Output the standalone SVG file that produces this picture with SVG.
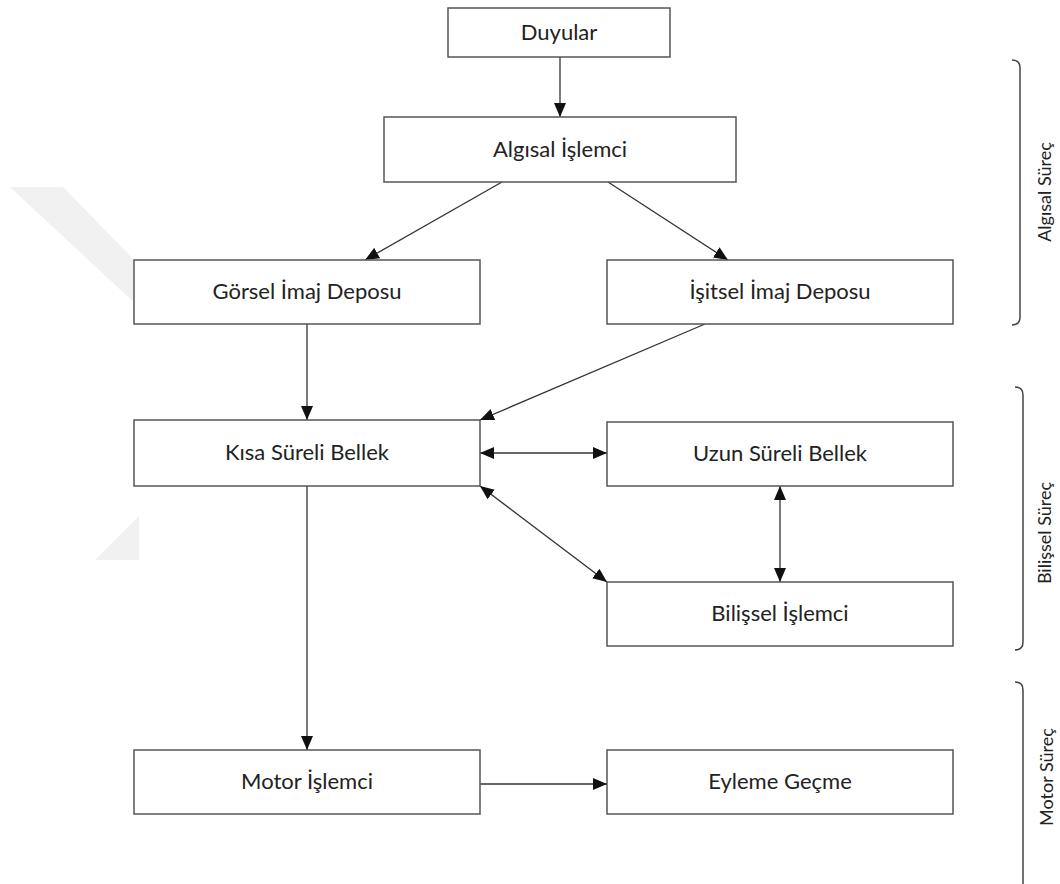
<svg xmlns="http://www.w3.org/2000/svg" width="1060" height="884" viewBox="0 0 1060 884">
<style>
.box{fill:#fff;stroke:#555;stroke-width:1.5}
.lbl{font-family:Lato,"Liberation Sans",sans-serif;font-size:22px;fill:#222;text-anchor:middle}
.side{font-family:Lato,"Liberation Sans",sans-serif;font-size:18px;fill:#222;text-anchor:middle}
.ln{fill:none;stroke:#333;stroke-width:1.3}
.br{fill:none;stroke:#444;stroke-width:1.5}
.wm{fill:#f1f1f1}
</style>
<defs>
<marker id="ah" markerUnits="userSpaceOnUse" markerWidth="14" markerHeight="12" viewBox="0 0 14 12" refX="14" refY="6" orient="auto-start-reverse">
<path d="M0,0 L14,6 L0,12 z" fill="#111"/>
</marker>
</defs>
<rect width="1060" height="884" fill="#fff"/>
<g id="watermark">
<polygon class="wm" points="10,187 63,187 140,266 140,308"/>
<polygon class="wm" points="95,560 139,560 139,516"/>
</g>
<g id="connectors">
<line class="ln" x1="560" y1="57" x2="560" y2="117" marker-end="url(#ah)"/>
<line class="ln" x1="502" y1="182" x2="365" y2="260" marker-end="url(#ah)"/>
<line class="ln" x1="608" y1="182" x2="728" y2="260" marker-end="url(#ah)"/>
<line class="ln" x1="307" y1="324" x2="307" y2="420" marker-end="url(#ah)"/>
<line class="ln" x1="705" y1="324" x2="480" y2="420" marker-end="url(#ah)"/>
<line class="ln" x1="480" y1="453" x2="607" y2="453" marker-start="url(#ah)" marker-end="url(#ah)"/>
<line class="ln" x1="480" y1="486" x2="607" y2="582" marker-start="url(#ah)" marker-end="url(#ah)"/>
<line class="ln" x1="780" y1="486" x2="780" y2="582" marker-start="url(#ah)" marker-end="url(#ah)"/>
<line class="ln" x1="307" y1="486" x2="307" y2="750" marker-end="url(#ah)"/>
<line class="ln" x1="480" y1="784" x2="607" y2="784" marker-end="url(#ah)"/>
</g>
<g id="duyular"><rect class="box" x="448" y="8" width="222" height="49"/><text class="lbl" x="559" y="40">Duyular</text></g>
<g id="algisal-islemci"><rect class="box" x="384" y="117" width="352" height="65"/><text class="lbl" x="560" y="157">Algısal İşlemci</text></g>
<g id="gorsel"><rect class="box" x="134" y="260" width="346" height="64"/><text class="lbl" x="307" y="299">Görsel İmaj Deposu</text></g>
<g id="isitsel"><rect class="box" x="607" y="260" width="346" height="64"/><text class="lbl" x="780" y="299">İşitsel İmaj Deposu</text></g>
<g id="kisa"><rect class="box" x="134" y="420" width="346" height="66"/><text class="lbl" x="307" y="460">Kısa Süreli Bellek</text></g>
<g id="uzun"><rect class="box" x="607" y="422" width="346" height="64"/><text class="lbl" x="780" y="461">Uzun Süreli Bellek</text></g>
<g id="bilissel-islemci"><rect class="box" x="607" y="582" width="346" height="64"/><text class="lbl" x="780" y="621">Bilişsel İşlemci</text></g>
<g id="motor-islemci"><rect class="box" x="134" y="750" width="346" height="64"/><text class="lbl" x="307" y="789">Motor İşlemci</text></g>
<g id="eyleme"><rect class="box" x="607" y="750" width="346" height="64"/><text class="lbl" x="780" y="789">Eyleme Geçme</text></g>
<g id="algisal-surec">
<path class="br" d="M1012,60 Q1020,60 1020,68 L1020,317 Q1020,325 1012,325"/>
<text class="side" transform="translate(1051,192) rotate(-90)">Algısal Süreç</text>
</g>
<g id="bilissel-surec">
<path class="br" d="M1015,387 Q1023,387 1023,395 L1023,642 Q1023,650 1015,650"/>
<text class="side" transform="translate(1051,533) rotate(-90)">Bilişsel Süreç</text>
</g>
<g id="motor-surec">
<path class="br" d="M1015,682 Q1023,682 1023,690 L1023,884"/>
<text class="side" transform="translate(1053,777) rotate(-90)">Motor Süreç</text>
</g>
</svg>
